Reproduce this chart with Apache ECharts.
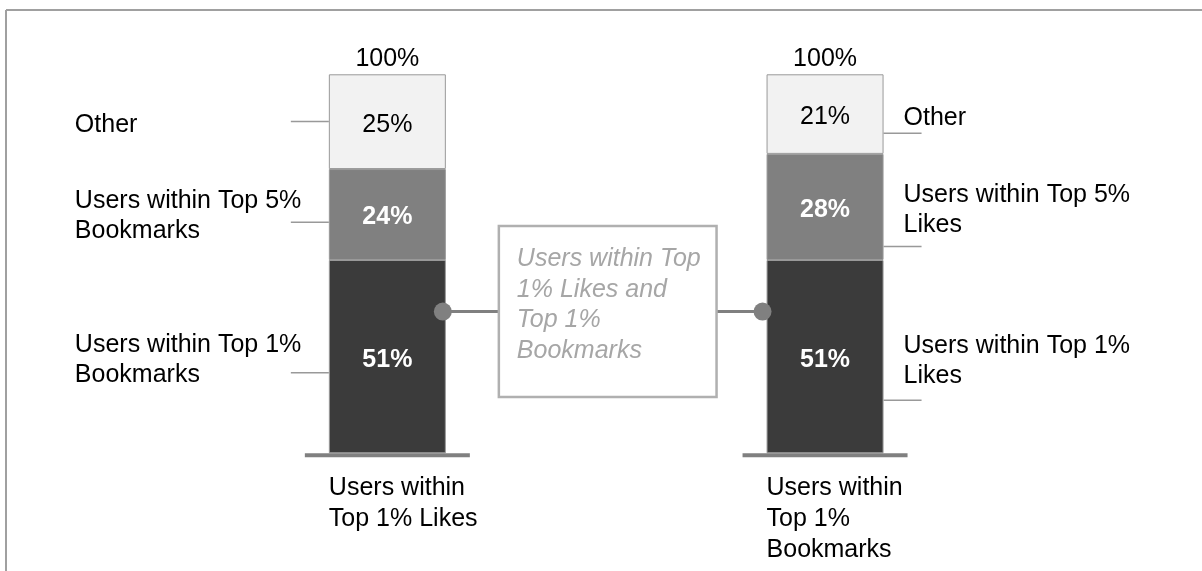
<!DOCTYPE html>
<html><head><meta charset="utf-8">
<script src="https://cdn.jsdelivr.net/npm/echarts@6/dist/echarts.min.js"></script>
<style>html,body{margin:0;padding:0;background:#fff}#c{width:1202px;height:571px}</style>
</head><body><div id="c"></div>
<script>
// ---- data ----
const categories = ['Users within\nTop 1% Likes', 'Users within\nTop 1%\nBookmarks'];
const seriesNames = ['Users within Top 1%', 'Users within Top 5%', 'Other'];
const top1Values = [51, 51];
const top5Values = [24, 28];
const otherValues = [25, 21];
const totals = [100, 100];
const bar1SegmentLabels = ['Users within Top 1%\nBookmarks', 'Users within Top 5%\nBookmarks', 'Other']; // bottom -> top
const bar2SegmentLabels = ['Users within Top 1%\nLikes', 'Users within Top 5%\nLikes', 'Other'];
const overlapLabel = 'Users within Top\n1% Likes and\nTop 1%\nBookmarks';

// ---- layout / style ----
const FONT = 'Liberation Sans, Arial, Helvetica, sans-serif';
const FS = 25;
const BAR_W = 117;
const segColors = ['#3b3b3b', '#808080', '#f2f2f2'];
const segLabelColors = ['#fff', '#fff', '#000'];
const segLabelWeights = ['bold', 'bold', 'normal'];
// leader position as fraction of segment from its top, and text bottom offset from leader
const bar1Leader = [{f: 0.583, dy: 17}, {f: 0.585, dy: 24}, {f: 0.498, dy: 19}];
const bar2Leader = [{f: 0.725, dy: -9}, {f: 0.873, dy: -6}, {f: 0.74, dy: 0}];
const connectorFrac = 0.733; // of bottom segment, from axis 0

const stackSeries = [top1Values, top5Values, otherValues].map((vals, k) => ({
  name: seriesNames[k], type: 'bar', stack: 'total', data: vals, barWidth: BAR_W,
  itemStyle: {color: segColors[k], borderColor: '#999', borderWidth: 1},
  label: {show: true, position: 'inside', offset: [0, 3], formatter: '{c}%', color: segLabelColors[k],
    fontWeight: segLabelWeights[k], fontSize: FS, fontFamily: FONT},
  silent: true
}));

const option = {
  animation: false,
  grid: {left: 168.5, right: 158.1, top: 74.3, bottom: 117.7},
  xAxis: {type: 'category', data: categories, axisLine: {show: false}, axisTick: {show: false}, axisLabel: {show: false}},
  yAxis: {type: 'value', min: 0, max: 100, show: false, splitLine: {show: false}},
  series: stackSeries.concat([{
    type: 'scatter', data: totals, symbolSize: 0, silent: true, itemStyle: {opacity: 1},
    label: {show: true, position: 'top', distance: 3, formatter: '{c}%', color: '#000', opacity: 1, fontSize: FS, fontFamily: FONT}
  }])
};

const chart = echarts.init(document.getElementById('c'));
chart.setOption(option);

function px(i, v) { return chart.convertToPixel({gridIndex: 0}, [i, v]); }
function txt(text, x, y, opts) {
  return {type: 'text', z: 100, style: Object.assign({
    text: text, x: x, y: y, fill: '#000', fontSize: FS, fontFamily: FONT, lineHeight: 30,
    align: 'left', textAlign: 'left', verticalAlign: 'top', textVerticalAlign: 'top'
  }, opts || {})};
}
function line(x1, y1, x2, y2, stroke, w) {
  return {type: 'line', z: 90, shape: {x1, y1, x2, y2}, style: {stroke: stroke, lineWidth: w}};
}

const g = [];
// frame
g.push(line(6, 10, 1202, 10, '#a0a0a0', 2));
g.push(line(6, 10, 6, 571, '#a0a0a0', 2));

const hw = BAR_W / 2;
const segVals = [top1Values, top5Values, otherValues];
[0, 1].forEach(i => {
  const cx = px(i, 0)[0];
  const y0 = px(i, 0)[1];
  // baseline
  g.push(line(cx - hw - 24, y0 + 2, cx + hw + 24, y0 + 2, '#808080', 4));
  // category label
  g.push(txt(categories[i], cx - hw, y0 + 19, {lineHeight: 31}));
  // segment labels + leaders
  let cum = 0;
  const lead = i === 0 ? bar1Leader : bar2Leader;
  const labels = i === 0 ? bar1SegmentLabels : bar2SegmentLabels;
  for (let k = 0; k < 3; k++) {
    const bottom = px(i, cum)[1];
    cum += segVals[k][i];
    const top = px(i, cum)[1];
    const ly = top + lead[k].f * (bottom - top);
    if (i === 0) {
      g.push(line(cx - hw - 38, ly, cx - hw, ly, '#999', 1.5));
      g.push(txt(labels[k], cx - hw - 254, ly + lead[k].dy, {verticalAlign: 'bottom', textVerticalAlign: 'bottom'}));
    } else {
      g.push(line(cx + hw, ly, cx + hw + 38, ly, '#999', 1.5));
      g.push(txt(labels[k], cx + hw + 20, ly + lead[k].dy, {verticalAlign: 'bottom', textVerticalAlign: 'bottom'}));
    }
  }
});

// connector between bars
const c1 = px(0, top1Values[0] * connectorFrac);
const c2 = px(1, top1Values[1] * connectorFrac);
const x1 = c1[0] + hw - 3, x2 = c2[0] - hw - 4;
const boxL = c1[0] + hw + 53, boxR = c2[0] - hw - 50;
const boxH = 171, boxT = c1[1] - boxH / 2;
g.push(line(x1, c1[1], x2, c2[1], '#808080', 3));
g.push({type: 'circle', z: 95, shape: {cx: x1, cy: c1[1], r: 9}, style: {fill: '#808080'}});
g.push({type: 'circle', z: 95, shape: {cx: x2, cy: c2[1], r: 9}, style: {fill: '#808080'}});
g.push({type: 'rect', z: 96, shape: {x: boxL, y: boxT, width: boxR - boxL, height: boxH}, style: {fill: '#fff', stroke: '#b0b0b0', lineWidth: 2.5}});
g.push(txt(overlapLabel, boxL + 18, boxT + 18, {fill: '#a6a6a6', fontStyle: 'italic', lineHeight: 30.5}));

chart.setOption({graphic: {elements: g}});
</script></body></html>
